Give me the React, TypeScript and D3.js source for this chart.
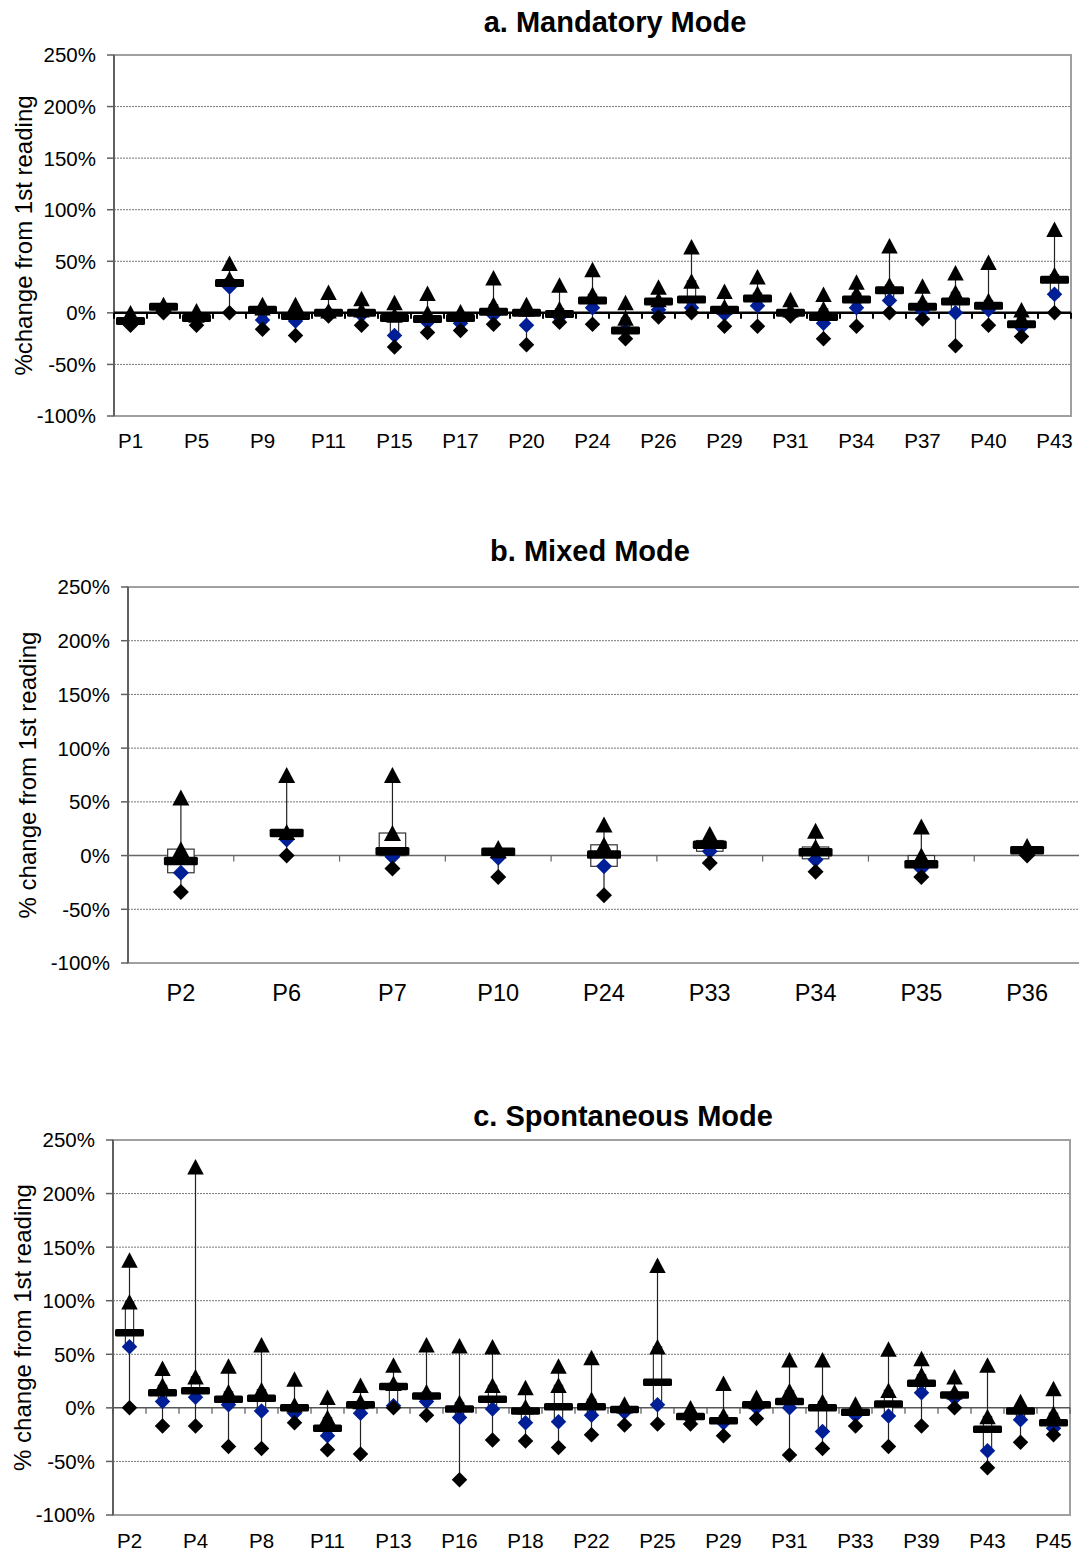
import React from "react";
import * as d3 from "d3";

// ---------- a. Mandatory Mode ----------
const mandatoryCategories = [
  "P1", "P3", "P5", "P7", "P9", "P10", "P11", "P13", "P15", "P16", "P17", "P19", "P20", "P22", "P24",
  "P25", "P26", "P28", "P29", "P30", "P31", "P32", "P34", "P36", "P37", "P38", "P40", "P41", "P43",
];
const mandatoryMin = [-12, 0, -12, 0, -16, -22, -3, -12, -33, -19, -17, -11, -31, -9, -11, -25, -4, 0, -13, -13, -3, -25, -13, 0, -6, -32, -12, -23, 0];
const mandatoryQ1 = [-10, 2, -8, 26, -5, -8, -1, -3, -20, -9, -8, -2, -3, -4, 4, -20, 3, 8, -1, 8, -1, -8, 5, 12, 0, 3, 2, -15, 15];
const mandatoryMedian = [-8, 6, -5, 29, 3, -3, 0, 0, -5, -6, -5, 1, 0, -1, 12, -17, 11, 13, 3, 14, 0, -4, 13, 22, 6, 11, 7, -11, 32];
const mandatoryQ3 = [-2, 7, -2, 33, 5, 2, 2, 3, -2, 0, -1, 8, 4, 4, 18, -5, 13, 31, 6, 19, 3, 4, 19, 27, 11, 20, 12, -5, 37];
const mandatoryMax = [0, 8, 2, 48, 8, 8, 20, 14, 10, 19, 1, 34, 8, 27, 42, 10, 25, 64, 21, 35, 13, 18, 30, 65, 26, 39, 49, 3, 81];
const mandatoryMean = [-8, 5, -5, 25, -7, -8, 0, -2, -22, -9, -10, -2, -12, -4, 5, -17, 3, 5, -1, 7, -1, -10, 5, 12, 2, 0, 3, -14, 18];

// ---------- b. Mixed Mode ----------
const mixedCategories = ["P2", "P6", "P7", "P10", "P24", "P33", "P34", "P35", "P36"];
const mixedMin = [-34, 0, -12, -20, -37, -7, -15, -20, 0];
const mixedQ1 = [-16, 18, 0, 1, -10, 4, -3, -10, 2];
const mixedMedian = [-5, 21, 4, 3.5, 1, 10, 3, -8, 5];
const mixedQ3 = [6, 22, 21, 5, 10, 14, 8, 0, 7];
const mixedMax = [54, 75, 75, 7, 29, 20, 23, 27, 9];
const mixedMean = [-16, 15, -1, -2, -10, 4, -4, -12, 3];

// ---------- c. Spontaneous Mode ----------
const spontaneousCategories = [
  "P2", "P3", "P4", "P6", "P8", "P10", "P11", "P12", "P13", "P14", "P16", "P17", "P18", "P21", "P22",
  "P23", "P25", "P27", "P29", "P30", "P31", "P32", "P33", "P35", "P39", "P41", "P43", "P44", "P45",
];
const spontaneousMin = [0, -17, -17, -36, -38, -14, -39, -43, 0, -7, -67, -30, -31, -37, -25, -16, -15, -15, -26, -10, -44, -38, -17, -36, -17, 0, -56, -32, -25];
const spontaneousQ1 = [55, 6, 10, 2, -3, -6, -25, -5, 1, 5, -9, -1, -12, -13, -7, -4, 2, -11, -15, 0, 0, -21, -8, -7, 14, 9, -39, -10, -18];
const spontaneousMedian = [70, 14, 16, 8, 9, 0, -19, 3, 20, 11, -1, 8, -3, 1, 1, -1.5, 24, -8, -12, 3, 6, 0, -4, 3.5, 23, 12, -20, -3, -14];
const spontaneousQ3 = [99, 21, 29, 15, 17, 3, -9, 6, 23, 15, 5, 21, 1, 21, 8, 2, 57, -3, -7, 6, 16, 6, 1, 16.5, 31, 15, -8, 2, -5];
const spontaneousMax = [138, 37, 225, 39, 59, 27, 10, 21, 40, 59, 58, 57, 19, 39, 47, 3.5, 133, 0, 23, 10, 45, 45, 3.5, 55, 46, 29, 40, 6, 18];
const spontaneousMean = [57, 6, 10, 3, -3, -5, -26, -5, 2, 6, -9, -1, -14, -13, -7, -4, 3, -10, -14, 0, 0, -22, -7, -7.5, 14, 9, -40, -11, -19];

const yTicks = [-100, -50, 0, 50, 100, 150, 200, 250];

const FONT = "Arial, 'Liberation Sans', Helvetica, sans-serif";
const MEAN_BLUE = "#001e96";

type Series = {
  categories: string[];
  min: number[];
  q1: number[];
  median: number[];
  q3: number[];
  max: number[];
  mean: number[];
};

type Layout = {
  title: string;
  titleX: number;
  titleY: number;
  yLabel: string;
  yLabelX: number;
  left: number;
  right: number;
  top: number;
  bottom: number;
  tickFont: number;
  xFont: number;
  xLabelY: number;
  labelEvery: number;
  zeroColor: string;
  zeroWidth: number;
  barW: number;
  barH: number;
  marker: number;
};

const triPath = (s: number) => {
  const w = s + 1;
  const h = s;
  return `M0,${-h / 2}L${w / 2},${h / 2}L${-w / 2},${h / 2}Z`;
};
const diamondPath = (s: number) => {
  const r = s / 2;
  return `M0,${-r}L${r},0L0,${r}L${-r},0Z`;
};

function Panel({ layout, series }: { layout: Layout; series: Series }) {
  const L = layout;
  const x = d3.scaleBand<string>().domain(series.categories).range([L.left, L.right]).padding(0);
  const y = d3.scaleLinear().domain([-100, 250]).range([L.bottom, L.top]);
  const bw = x.bandwidth();
  const boxW = bw * 0.25;
  const tri = triPath(L.marker);
  const dia = diamondPath(L.marker);
  const boundaries = d3.range(series.categories.length + 1).map((i) => L.left + i * bw);

  return (
    <g>
      {/* title */}
      <text x={L.titleX} y={L.titleY} textAnchor="middle" fontFamily={FONT} fontWeight="bold" fontSize={29}>
        {L.title}
      </text>

      {/* plot frame */}
      <rect x={L.left} y={L.top} width={L.right - L.left} height={L.bottom - L.top} fill="#fff" stroke="#a0a0a0" strokeWidth={2} />

      {/* dotted gridlines */}
      {yTicks
        .filter((t) => t !== 0 && t !== -100 && t !== 250)
        .map((t) => (
          <line key={t} x1={L.left} x2={L.right} y1={y(t)} y2={y(t)} stroke="#777" strokeWidth={1} strokeDasharray="2 1" />
        ))}

      {/* y axis */}
      <line x1={L.left} x2={L.left} y1={L.top} y2={L.bottom} stroke="#606060" strokeWidth={2} />
      {yTicks.map((t) => (
        <g key={t}>
          <line x1={L.left - 7} x2={L.left} y1={y(t)} y2={y(t)} stroke="#606060" strokeWidth={1.5} />
          <text x={L.left - 18} y={y(t)} dy="0.36em" textAnchor="end" fontFamily={FONT} fontSize={L.tickFont}>
            {`${t}%`}
          </text>
        </g>
      ))}

      {/* y axis title */}
      <text
        transform={`translate(${L.yLabelX},${(L.top + L.bottom) / 2}) rotate(-90)`}
        textAnchor="middle"
        dominantBaseline="central"
        fontFamily={FONT}
        fontSize={24}
      >
        {L.yLabel}
      </text>

      {/* category axis at 0% */}
      <line x1={L.left} x2={L.right} y1={y(0)} y2={y(0)} stroke={L.zeroColor} strokeWidth={L.zeroWidth} />
      {boundaries.map((bx, i) => (
        <line key={i} x1={bx} x2={bx} y1={y(0)} y2={y(0) + 6} stroke={L.zeroColor} strokeWidth={L.zeroWidth * 0.8} />
      ))}

      {/* category labels */}
      {series.categories.map((c, i) =>
        i % L.labelEvery === 0 ? (
          <text key={c} x={(x(c) ?? 0) + bw / 2} y={L.xLabelY} dy="0.36em" textAnchor="middle" fontFamily={FONT} fontSize={L.xFont}>
            {c}
          </text>
        ) : null
      )}

      {/* box plots */}
      {series.categories.map((c, i) => {
        const cx = (x(c) ?? 0) + bw / 2;
        return (
          <g key={c}>
            <line x1={cx} x2={cx} y1={y(series.min[i])} y2={y(series.max[i])} stroke="#222" strokeWidth={1.2} />
            <rect
              x={cx - boxW / 2}
              y={y(series.q3[i])}
              width={boxW}
              height={Math.max(0, y(series.q1[i]) - y(series.q3[i]))}
              fill="#fff"
              stroke="#333"
              strokeWidth={1.2}
            />
            <path d={dia} transform={`translate(${cx},${y(series.mean[i])})`} fill={MEAN_BLUE} />
            <path d={dia} transform={`translate(${cx},${y(series.min[i])})`} fill="#000" />
            <path d={tri} transform={`translate(${cx},${y(series.max[i])})`} fill="#000" />
            <path d={tri} transform={`translate(${cx},${y(series.q3[i])})`} fill="#000" />
            <rect
              x={cx - L.barW / 2}
              y={y(series.median[i]) - L.barH / 2}
              width={L.barW}
              height={L.barH}
              rx={1.5}
              fill="#000"
            />
          </g>
        );
      })}
    </g>
  );
}

const mandatory: Series = {
  categories: mandatoryCategories,
  min: mandatoryMin,
  q1: mandatoryQ1,
  median: mandatoryMedian,
  q3: mandatoryQ3,
  max: mandatoryMax,
  mean: mandatoryMean,
};
const mixed: Series = {
  categories: mixedCategories,
  min: mixedMin,
  q1: mixedQ1,
  median: mixedMedian,
  q3: mixedQ3,
  max: mixedMax,
  mean: mixedMean,
};
const spontaneous: Series = {
  categories: spontaneousCategories,
  min: spontaneousMin,
  q1: spontaneousQ1,
  median: spontaneousMedian,
  q3: spontaneousQ3,
  max: spontaneousMax,
  mean: spontaneousMean,
};

const layoutA: Layout = {
  title: "a. Mandatory Mode",
  titleX: 615,
  titleY: 32,
  yLabel: "%change from 1st reading",
  yLabelX: 23,
  left: 114,
  right: 1071,
  top: 55,
  bottom: 416,
  tickFont: 20.5,
  xFont: 20.5,
  xLabelY: 441,
  labelEvery: 2,
  zeroColor: "#000",
  zeroWidth: 2.5,
  barW: 29,
  barH: 8,
  marker: 15.5,
};
const layoutB: Layout = {
  title: "b. Mixed Mode",
  titleX: 590,
  titleY: 561,
  yLabel: "% change from 1st reading",
  yLabelX: 27,
  left: 128,
  right: 1080,
  top: 587,
  bottom: 963,
  tickFont: 20.5,
  xFont: 23.5,
  xLabelY: 993,
  labelEvery: 1,
  zeroColor: "#666",
  zeroWidth: 1.5,
  barW: 34,
  barH: 8.5,
  marker: 16,
};
const layoutC: Layout = {
  title: "c. Spontaneous Mode",
  titleX: 623,
  titleY: 1126,
  yLabel: "% change from 1st reading",
  yLabelX: 22,
  left: 113,
  right: 1070,
  top: 1140,
  bottom: 1515,
  tickFont: 20.5,
  xFont: 20.5,
  xLabelY: 1541,
  labelEvery: 2,
  zeroColor: "#555",
  zeroWidth: 1.5,
  barW: 29,
  barH: 7.5,
  marker: 15.5,
};

export default function App() {
  return (
    <svg
      width={1079}
      height={1555}
      viewBox="0 0 1079 1555"
      style={{ position: "absolute", left: 0, top: 0, background: "#fff" }}
    >
      <rect x={0} y={0} width={1079} height={1555} fill="#fff" />
      <Panel layout={layoutA} series={mandatory} />
      <Panel layout={layoutB} series={mixed} />
      <Panel layout={layoutC} series={spontaneous} />
    </svg>
  );
}
